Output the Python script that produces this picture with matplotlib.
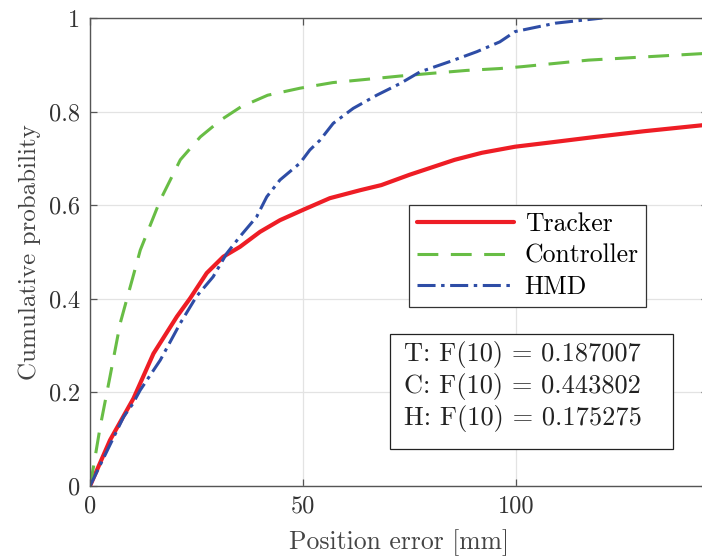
import matplotlib.pyplot as plt
from matplotlib.patches import Rectangle

# ---------------- DATA ---------------- #
tracker_x = [0, 4.7, 10.2, 14.9, 20.4, 23.5, 27.4, 31.3, 35.2, 39.9, 44.6, 50, 56.3, 63.4, 68.4, 75,
             85.6, 92, 99.8, 108, 118.7, 130, 143.9, 150]
tracker_y = [0, 0.098, 0.187, 0.283, 0.362, 0.401, 0.455, 0.49, 0.511, 0.543, 0.568, 0.59, 0.615, 0.632,
             0.643, 0.665, 0.697, 0.712, 0.725, 0.734, 0.746, 0.758, 0.771, 0.776]

controller_x = [0, 0.8, 2.4, 4.7, 7.1, 10, 11.8, 16.5, 21.2, 25.9, 30.7, 35.4, 41.7, 49.3, 57, 65, 72.8,
                80.5, 88.4, 96.2, 101.4, 117, 143.9, 150]
controller_y = [0, 0.04, 0.127, 0.234, 0.348, 0.444, 0.504, 0.611, 0.697, 0.746, 0.782, 0.81, 0.835, 0.85,
                0.862, 0.869, 0.876, 0.882, 0.888, 0.892, 0.896, 0.91, 0.924, 0.927]

hmd_x = [0, 7.9, 10, 11.8, 16.5, 21.2, 25, 28.9, 32.1, 35.2, 39.1, 41.5, 44.6, 49.3, 51.6, 54, 57.1, 61.8,
         67.3, 72.8, 77.5, 84.5, 90.8, 96.2, 99.8, 109.3, 120.3]
hmd_y = [0, 0.148, 0.175, 0.205, 0.269, 0.348, 0.405, 0.447, 0.497, 0.533, 0.575, 0.618, 0.654, 0.69,
         0.718, 0.739, 0.775, 0.807, 0.835, 0.86, 0.885, 0.907, 0.928, 0.949, 0.971, 0.989, 1.0]

f10_lines = ["T: F(10) = 0.187007", "C: F(10) = 0.443802", "H: F(10) = 0.175275"]

# ---------------- STYLE ---------------- #
plt.rcParams['font.family'] = 'serif'
plt.rcParams['font.serif'] = ['cmr10']
plt.rcParams['mathtext.fontset'] = 'cm'
plt.rcParams['axes.formatter.use_mathtext'] = True
plt.rcParams['lines.scale_dashes'] = False

TEXT = "#333333"
RED = "#ee1d25"
GREEN = "#68bd45"
BLUE = "#2e4da6"

W, H = 702, 560
XMAX = 145
fig = plt.figure(figsize=(W / 100, H / 100), dpi=100)
# right spine sits just outside the picture, like the original crop
ax = fig.add_axes([90 / W, 74 / H, XMAX * 4.26 / W, 468 / H])

ax.plot(tracker_x, tracker_y, color=RED, lw=3.0, label="Tracker", solid_capstyle='round')
ax.plot(controller_x, controller_y, color=GREEN, lw=2.2, dashes=(15, 9), label="Controller")
ax.plot(hmd_x, hmd_y, color=BLUE, lw=2.2, dashes=(13, 4, 2.5, 4), label="HMD")

ax.set_xlim(0, XMAX)
ax.set_ylim(0, 1)
ax.set_xticks([0, 50, 100])
ax.set_xticklabels(["0", "50", "100"])
ax.set_yticks([0, 0.2, 0.4, 0.6, 0.8, 1])
ax.set_yticklabels(["0", "0.2", "0.4", "0.6", "0.8", "1"])
ax.grid(True, color="#e3e3e3", lw=0.9)
ax.set_axisbelow(True)
ax.tick_params(direction='in', length=5, width=0.9, top=True, right=True, colors="#555555",
               labelcolor=TEXT, labelsize=17.5, pad=7)
for s in ax.spines.values():
    s.set_color("#555555")
    s.set_linewidth(1.0)

ax.set_xlabel("Position error [mm]", fontsize=18.5, color="#444444", labelpad=8)
ax.set_ylabel("Cumulative probability", fontsize=18, color="#444444", labelpad=6)

leg = ax.legend(loc='upper left', bbox_to_anchor=(409 / W, 1 - 205 / H), bbox_transform=fig.transFigure,
                borderaxespad=0, fontsize=18.5, handlelength=3.8, handletextpad=0.4,
                labelspacing=0.3, borderpad=0.3, fancybox=False, framealpha=1)
leg.get_frame().set_edgecolor("#333333")
leg.get_frame().set_linewidth(0.9)

# F(10) box
fig.patches.append(Rectangle((390 / W, 1 - 449 / H), 283 / W, 115 / H, transform=fig.transFigure,
                             facecolor='white', edgecolor="#222222", lw=0.9, zorder=5))
fig.text(404 / W, 1 - 387 / H, "\n".join(f10_lines), fontsize=19, color="#222222",
         ha='left', va='center', linespacing=1.25, zorder=6)

fig.savefig("out.png", dpi=100)
